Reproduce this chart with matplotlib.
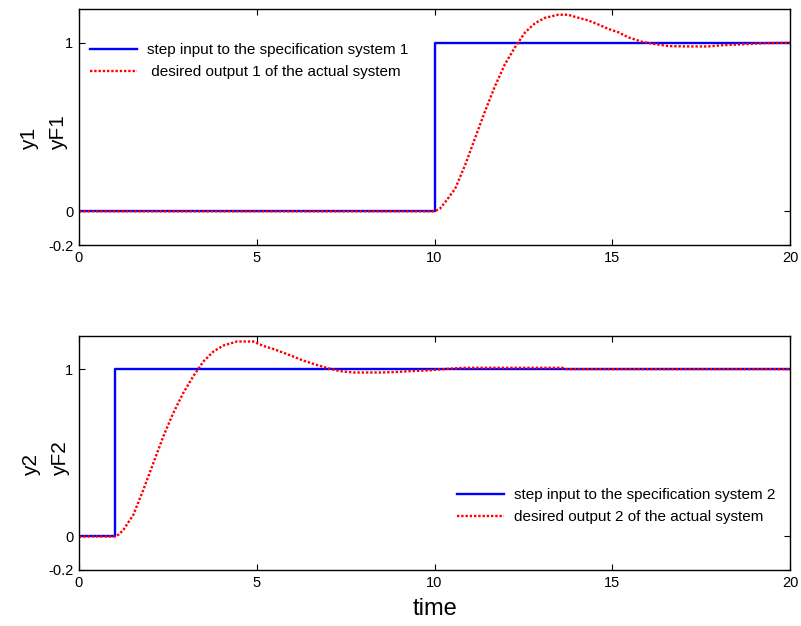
import matplotlib
matplotlib.use("Agg")
import matplotlib.pyplot as plt
import numpy as np

plt.rcParams['font.family'] = ['Liberation Sans', 'DejaVu Sans']

# ---- data ----
step1_t = [0, 10, 10, 20]
step1_y = [0, 0, 1, 1]
resp1_t = [0, 10.0, 10.15, 10.3, 10.58, 10.86, 11.14, 11.42, 11.70, 11.98, 12.26, 12.55,
           12.83, 13.11, 13.48, 13.75, 14.05, 14.33, 14.61, 14.89, 15.17, 15.45,
           15.83, 16.2, 16.58, 17.14, 17.7, 18.08, 18.64, 19.2, 20.0]
resp1_y = [0, 0, 0.015, 0.054, 0.134, 0.274, 0.434, 0.593, 0.742, 0.872, 0.972, 1.062,
           1.116, 1.148, 1.166, 1.166, 1.148, 1.132, 1.108, 1.082, 1.062, 1.032,
           1.006, 0.992, 0.98, 0.978, 0.978, 0.985, 0.99, 0.997, 1.0]

step2_t = [0, 1, 1, 20]
step2_y = [0, 0, 1, 1]
resp2_t = [0, 1.0, 1.12, 1.25, 1.53, 1.81, 2.09, 2.37, 2.65, 2.93, 3.21, 3.50, 3.78,
           4.06, 4.44, 4.9, 5.18, 5.46, 5.74, 6.03, 6.31, 6.69, 7.06, 7.34, 7.72,
           8.47, 8.94, 9.4, 9.87, 10.25, 10.81, 13.6, 13.7, 20.0]
resp2_y = [0, 0, 0.012, 0.04, 0.13, 0.279, 0.438, 0.597, 0.737, 0.856, 0.956, 1.046, 1.105,
           1.141, 1.165, 1.165, 1.139, 1.121, 1.099, 1.075, 1.051, 1.025, 1.002, 0.988,
           0.98, 0.98, 0.983, 0.989, 0.993, 1.0, 1.008, 1.008, 1.0, 1.0]

x_ticks = [0, 5, 10, 15, 20]
y_ticks = [-0.2, 0, 1]
y_ticklabels = ['-0.2', '0', '1']

fig = plt.figure(figsize=(8.01, 6.26), dpi=100)
ax1 = fig.add_axes([0.0986, 0.6086, 0.8877, 0.377])
ax2 = fig.add_axes([0.0986, 0.0895, 0.8877, 0.3743])

dot = (0, (1, 0.8))

def style(ax):
    ax.set_xlim(0, 20)
    ax.set_ylim(-0.2, 1.2)
    ax.set_xticks(x_ticks)
    ax.set_xticklabels([str(v) for v in x_ticks])
    ax.set_yticks(y_ticks)
    ax.set_yticklabels(y_ticklabels)
    ax.tick_params(direction='in', top=True, right=True, length=4, width=0.8,
                   labelsize=10.5, pad=4)
    for s in ax.spines.values():
        s.set_linewidth(1.0)
        s.set_color('black')

ax1.plot(step1_t, step1_y, color='#0000ff', lw=1.7,
         label='step input to the specification system 1')
ax1.plot(resp1_t, resp1_y, color='#ff0000', lw=1.7, linestyle=dot,
         label=' desired output 1 of the actual system')
style(ax1)
ax1.set_ylabel('y1\nyF1', fontsize=15, multialignment='left', linespacing=1.65)
ax1.yaxis.set_label_coords(-0.016, 0.477)
ax1.legend(loc='upper left', frameon=False, fontsize=11, handlelength=3.1,
           handletextpad=0.65, bbox_to_anchor=(0.0, 0.9), borderaxespad=0.3,
           labelspacing=0.5)

ax2.plot(step2_t, step2_y, color='#0000ff', lw=1.7,
         label='step input to the specification system 2')
ax2.plot(resp2_t, resp2_y, color='#ff0000', lw=1.7, linestyle=dot,
         label='desired output 2 of the actual system')
style(ax2)
ax2.set_ylabel('y2\nyF2', fontsize=15, multialignment='left', linespacing=1.65)
ax2.yaxis.set_label_coords(-0.013, 0.476)
ax2.set_xlabel('time', fontsize=17, labelpad=6)
ax2.legend(loc='lower right', frameon=False, fontsize=11, handlelength=3.1,
           handletextpad=0.65, bbox_to_anchor=(0.995, 0.15), borderaxespad=0.3,
           labelspacing=0.5)

fig.savefig('out.png', dpi=100)
